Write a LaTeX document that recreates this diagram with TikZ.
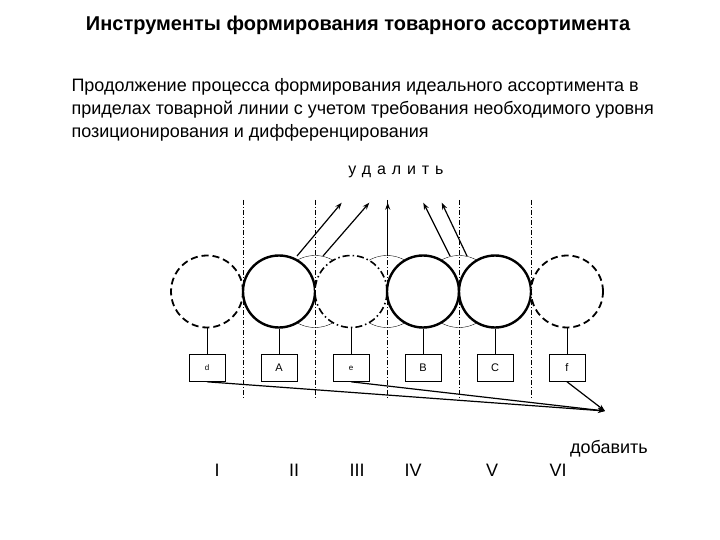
\documentclass[tikz,border=0pt]{standalone}
\usepackage{fontspec}
\setmainfont{Liberation Sans}
\usetikzlibrary{arrows.meta}
\begin{document}
\begin{tikzpicture}[x=1pt,y=-1pt,
  bigc/.style={circle, minimum size=72pt, inner sep=0pt, fill=white},
  solidc/.style={bigc, draw, line width=2.4pt},
  dashc/.style={bigc, draw, line width=1.8pt, dash pattern=on 7pt off 4pt},
  dotc/.style={bigc, draw, line width=1.6pt, dash pattern=on 7pt off 3pt on 1.5pt off 3pt},
  thinc/.style={circle, minimum size=72pt, inner sep=0pt, draw, line width=0.35pt},
  box/.style={draw, line width=0.6pt, minimum width=36pt, minimum height=27pt, inner sep=0pt, font=\fontsize{11}{11}\selectfont},
  sbox/.style={box, font=\fontsize{8}{8}\selectfont},
  sep/.style={line width=0.5pt, dash pattern=on 5pt off 2pt on 1pt off 2pt},
  stem/.style={line width=0.6pt},
  arr/.style={line width=1.2pt, -{Stealth[length=7pt,width=5pt]}},
  txt/.style={font=\fontsize{18}{23}\selectfont},
]
\useasboundingbox[fill=white] (0,0) rectangle (720,540);

% title and text
\node[font=\bfseries\fontsize{20}{22}\selectfont] (title) at (358,25) {Инструменты формирования товарного ассортимента};
\node[txt, anchor=west, align=left] (body) at (68,110) {Продолжение процесса формирования идеального ассортимента в\\приделах товарной линии с учетом требования необходимого уровня\\позиционирования и дифференцирования};
\node[font=\fontsize{16}{16}\selectfont\addfontfeature{LetterSpace=37}] (udal) at (396,172) {удалить};

% thin intermediate circles
\node[thinc] (t1) at (315,291.5) {};
\node[thinc] (t2) at (387,291.5) {};
\node[thinc] (t3) at (459,291.5) {};

% main circles
\node[dashc]  (c1) at (207,291.5) {};
\node[solidc] (c2) at (279,291.5) {};
\node[dotc]   (c3) at (351,291.5) {};
\node[solidc] (c4) at (423,291.5) {};
\node[solidc] (c5) at (495,291.5) {};
\node[dashc]  (c6) at (567,291.5) {};

% separators
\foreach \x in {243,315,387,459,531} \draw[sep] (\x,200) -- (\x,398);

% boxes
\node[sbox] (b1) at (207,368) {d};
\node[box]  (b2) at (279,368) {A};
\node[sbox] (b3) at (351,368) {e};
\node[box]  (b4) at (423,368) {B};
\node[box]  (b5) at (495,368) {C};
\node[box]  (b6) at (567,368) {f};
\foreach \i in {1,...,6} \draw[stem] (c\i.south) -- (b\i.north);

% delete arrows
\coordinate (u1a) at (297,256);   \coordinate (u1b) at (341.7,202.7);
\coordinate (u2a) at (323,256);   \coordinate (u2b) at (369.3,202.7);
\coordinate (u3a) at (387.7,256); \coordinate (u3b) at (387.7,202.7);
\coordinate (u4a) at (450,256);   \coordinate (u4b) at (423.3,202.7);
\coordinate (u5a) at (467,256);   \coordinate (u5b) at (441.7,202.7);
\foreach \i in {1,...,5} \draw[arr] (u\i a) -- (u\i b);

% add arrows
\coordinate (tip) at (605,411);
\draw[arr] (b1.south) -- (tip);
\draw[arr] (b3.south) -- (tip);
\draw[arr] (b6.south) -- (tip);
\node[txt] (dob) at (609,449) {добавить};

% roman numerals
\node[txt] (r1) at (217,470) {I};
\node[txt] (r2) at (294,470) {II};
\node[txt] (r3) at (357,470) {III};
\node[txt] (r4) at (413,470) {IV};
\node[txt] (r5) at (492,470) {V};
\node[txt] (r6) at (558,470) {VI};
\end{tikzpicture}
\end{document}
